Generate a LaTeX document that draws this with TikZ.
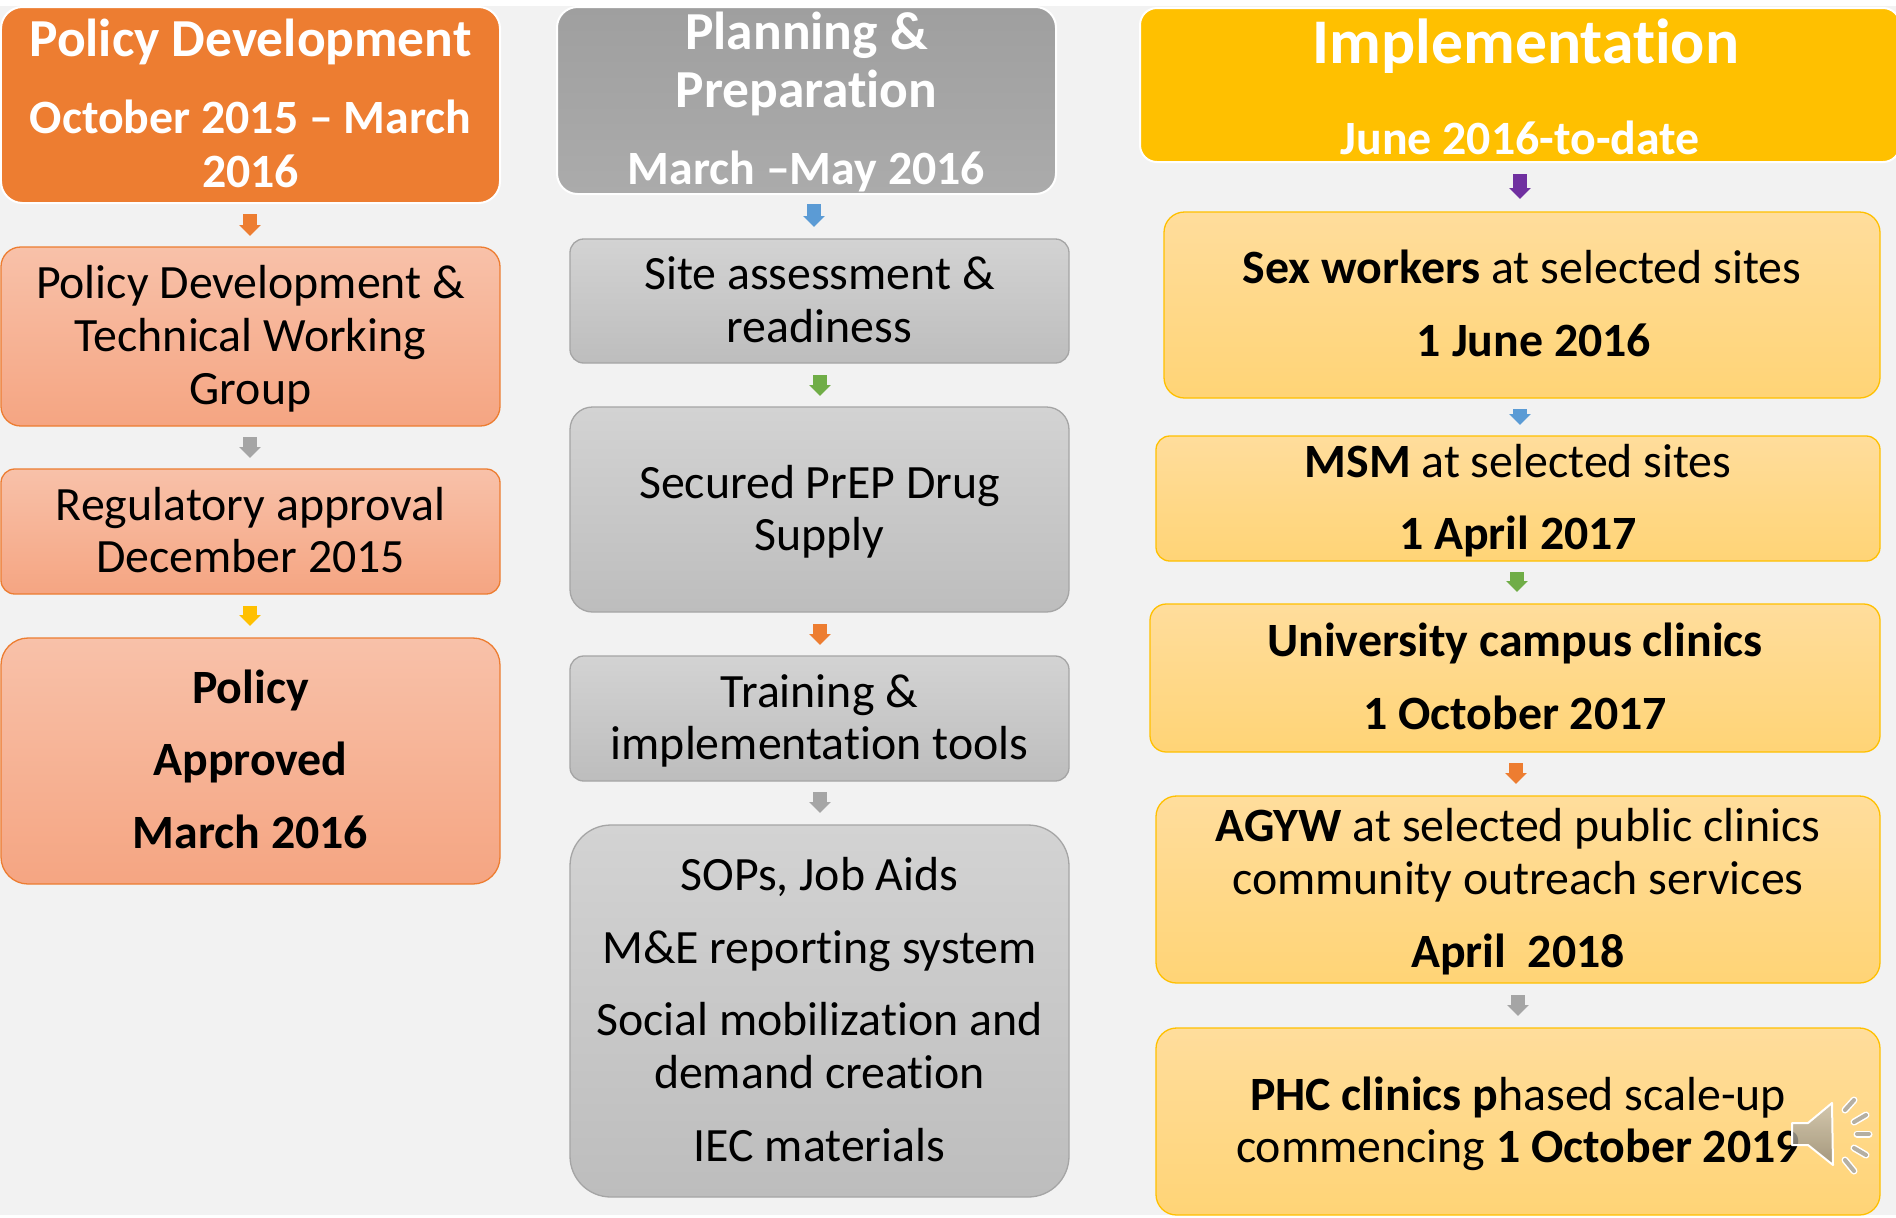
\documentclass[tikz,border=0pt]{standalone}
\usepackage{fontspec}
\setmainfont[Ligatures=NoCommon]{Carlito}
\usetikzlibrary{arrows.meta}
\newdimen\px \px=0.01cm
\definecolor{corange}{HTML}{ED7D31}
\definecolor{cgray}{HTML}{A5A5A5}
\definecolor{cyel}{HTML}{FFC000}
\definecolor{cblue}{HTML}{5B9BD5}
\definecolor{cgreen}{HTML}{70AD47}
\definecolor{cpurple}{HTML}{7030A0}
\definecolor{bgpage}{HTML}{F2F2F2}
\definecolor{pinktop}{HTML}{F8C1A9}
\definecolor{pinkbot}{HTML}{F5A582}
\definecolor{greytop}{HTML}{D3D3D3}
\definecolor{greybot}{HTML}{BDBDBD}
\definecolor{goldtop}{HTML}{FFDD9C}
\definecolor{goldbot}{HTML}{FFD476}
\definecolor{spktop}{HTML}{C9C3B5}
\definecolor{spkbot}{HTML}{8E887C}
\definecolor{spkray}{HTML}{B5AFA2}
\definecolor{hgtop}{HTML}{9F9F9F}
\definecolor{hgbot}{HTML}{ABABAB}
\newcommand\bodyf{\fontsize{13.6pt}{15pt}\selectfont}
\newcommand\headf{\fontsize{13.6pt}{15.2pt}\selectfont\bfseries}
\newcommand\bigf{\fontsize{15.2pt}{16.4pt}\selectfont}
\newcommand\hugef{\fontsize{18.1pt}{18pt}\selectfont}
\tikzset{
  x=0.01cm,y=-0.01cm,
  boxbase/.style={draw,inner sep=0pt,outer sep=0pt,align=center,line width=1.3\px},
  headbox/.style={boxbase,draw=white,line width=2\px,text=white},
  hleft/.style={headbox,fill=corange,font=\headf},
  hmid/.style={headbox,top color=hgtop,bottom color=hgbot,font=\headf},
  hright/.style={headbox,fill=cyel,font=\headf},
  pinkbox/.style={boxbase,draw=corange,top color=pinktop,bottom color=pinkbot,font=\bodyf},
  greybox/.style={boxbase,draw=cgray,top color=greytop,bottom color=greybot,font=\bodyf},
  goldbox/.style={boxbase,draw=cyel,top color=goldtop,bottom color=goldbot,font=\bodyf},
  blockarrow/.style={line width=0.14cm,-{Triangle[width=0.21cm,length=0.11cm]}},
}
% name, style, x0, y0, x1, y1, raise, text
\newcommand\bx[8]{%
  \pgfmathsetmacro\cxv{(#3+#5)/2}%
  \pgfmathsetmacro\cyv{(#4+#6)/2}%
  \pgfmathsetmacro\wv{#5-#3}%
  \pgfmathsetmacro\hv{#6-#4}%
  \pgfmathsetmacro\rv{0.11*min(\wv,\hv)}%
  \node[#2,rounded corners=\rv\px,minimum width=\wv\px,minimum height=\hv\px] (#1) at (\cxv,\cyv)
    {\raisebox{#7\px}[0pt][0pt]{\begin{tabular}{@{}c@{}}#8\end{tabular}}};%
}
% from, to, colour, x, gap at start, gap at end
\newcommand\arr[6]{%
  \draw[blockarrow,draw=#3,fill=#3,shorten <=#5\px,shorten >=#6\px] (#1.south -| #4,0) -- (#2.north -| #4,0);%
}
\begin{document}
\begin{tikzpicture}
\useasboundingbox (0,0) rectangle (1896,1217);
\fill[white] (0,0) rectangle (1896,1217);
\fill[bgpage] (0,6) rectangle (1896,1215);
% left column
\bx{h1}{hleft}{1}{7}{500}{203}{-18.5}{{\bigf Policy Development}\\[24\px]October 2015 – March\\2016}
\bx{l1}{pinkbox}{1}{247}{500}{426}{-17}{Policy Development \&\\Technical Working\\Group}
\bx{l2}{pinkbox}{1}{469}{500}{594}{-17}{Regulatory approval\\December 2015}
\bx{l3}{pinkbox}{1}{638}{500}{884}{-17}{\textbf{Policy}\\[20\px]\textbf{Approved}\\[20\px]\textbf{March 2016}}
% middle column
\bx{h2}{hmid}{557}{7}{1056}{194}{-18.3}{{\bigf Planning \&}\\[5\px]{\bigf Preparation}\\[23.6\px]March –May 2016}
\bx{m1}{greybox}{570}{239}{1069}{363}{-17}{Site assessment \&\\readiness}
\bx{m2}{greybox}{570}{407}{1069}{612}{-17}{Secured PrEP Drug\\Supply}
\bx{m3}{greybox}{570}{656}{1069}{781}{-17}{Training \&\\implementation tools}
\bx{m4}{greybox}{570}{825}{1069}{1197}{-17}{SOPs, Job Aids\\[20\px]M\&E reporting system\\[20\px]Social mobilization and\\demand creation\\[20\px]IEC materials}
% right column
\bx{h3}{hright}{1140}{8}{1900}{162}{-22.8}{\hspace*{12\px}{\hugef Implementation}\\[37.6\px]June 2016-to-date}
\bx{r1}{goldbox}{1164}{212}{1880}{398}{-17}{\textbf{Sex workers} at selected sites\\[20\px]\hspace*{24\px}\textbf{1 June 2016}}
\bx{r2}{goldbox}{1156}{436}{1880}{561}{-17}{\textbf{MSM} at selected sites\\[20\px]\textbf{1 April 2017}}
\bx{r3}{goldbox}{1150}{604}{1880}{752}{-17}{\textbf{University campus clinics}\\[20\px]\textbf{1 October 2017}}
\bx{r4}{goldbox}{1156}{796}{1880}{983}{-17}{\textbf{AGYW} at selected public clinics\\community outreach services\\[20\px]\textbf{April\ \ 2018}}
\bx{r5}{goldbox}{1156}{1028}{1880}{1215}{-17}{\textbf{PHC clinics p}hased scale-up\\commencing \textbf{1 October 2019}}
% arrows
\arr{h1}{l1}{corange}{250}{11}{11}
\arr{l1}{l2}{cgray}{250}{11}{11}
\arr{l2}{l3}{cyel}{250}{12}{12}
\arr{h2}{m1}{cblue}{814}{10}{12}
\arr{m1}{m2}{cgreen}{820}{12}{11}
\arr{m2}{m3}{corange}{820}{12}{11}
\arr{m3}{m4}{cgray}{820}{11}{12}
\arr{h3}{r1}{cpurple}{1520}{12}{13}
\arr{r1}{r2}{cblue}{1520}{11}{11}
\arr{r2}{r3}{cgreen}{1517}{11}{12}
\arr{r3}{r4}{corange}{1516}{11}{12}
\arr{r4}{r5}{cgray}{1518}{12}{12}
% speaker icon
\path[draw=white,line width=2\px,line join=round,top color=spktop,bottom color=spkbot,fill opacity=.8]
  (1792,1123) -- (1808,1123) -- (1832,1103) -- (1833,1165) -- (1808,1145) -- (1792,1145) -- cycle;
\foreach \xa/\ya/\xb/\yb in {1845/1110/1854/1100,1854/1122/1866/1115,1857/1134/1869/1134,1854/1148/1866/1155,1845/1160/1854/1171}{
  \draw[white,line width=7\px,line cap=round] (\xa,\ya) -- (\xb,\yb);
  \draw[spkray,line width=4\px,line cap=round] (\xa,\ya) -- (\xb,\yb);
}
\end{tikzpicture}
\end{document}
